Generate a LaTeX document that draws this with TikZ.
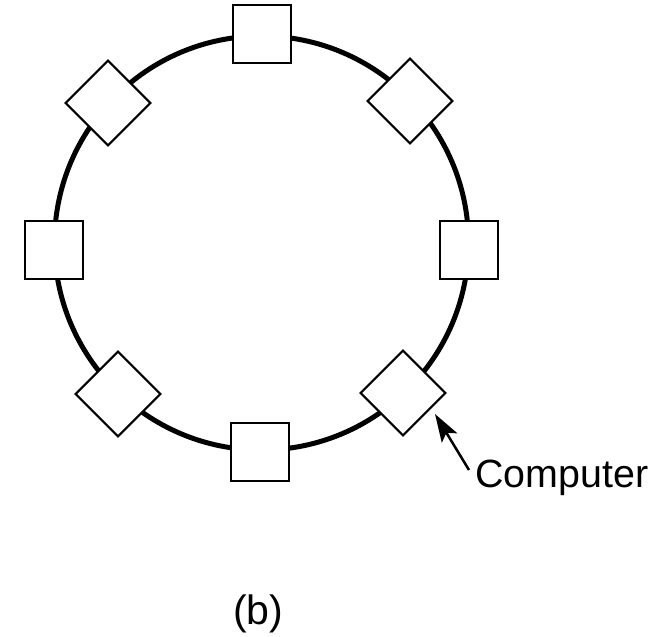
\documentclass[tikz,border=0pt]{standalone}
\usepackage{fontspec}
\setmainfont{Liberation Sans}
\usetikzlibrary{arrows.meta}
\begin{document}
\begin{tikzpicture}[x=1pt,y=-1pt,
  ring/.style={line width=5pt},
  sqnode/.style={draw, fill=white, line width=2.6pt, minimum size=58pt, inner sep=0pt},
  dmnode/.style={draw, fill=white, line width=2.2pt, minimum size=60pt, inner sep=0pt, rotate=45},
  lbl/.style={inner sep=0pt, font=\fontsize{39.4}{47}\selectfont},
  pointer/.style={line width=2.5pt, -{Stealth[length=28pt, width=18pt, inset=6pt]}}]
\useasboundingbox (0,0) rectangle (667,637);
\fill[white] (0,0) rectangle (667,637);
\coordinate (c) at (261.5,243);
\draw[ring] (c) circle[radius=207];
\node[sqnode] (n) at (262,34) {};
\node[dmnode] (ne) at (410,101) {};
\node[sqnode] (e) at (469,250) {};
\node[dmnode] (se) at (403,393) {};
\node[sqnode] (s) at (260,452) {};
\node[dmnode] (sw) at (118,394) {};
\node[sqnode] (w) at (54,250) {};
\node[dmnode] (nw) at (108,103) {};
\node[lbl, anchor=base west] (comp) at (475,487) {Computer};
\coordinate (tail) at (469,470);
\coordinate (tip) at (435,414);
\draw[pointer] (tail) -- (tip);
\node[inner sep=0pt, font=\fontsize{41}{48}\selectfont, anchor=base west] (b) at (233,624) {(b)};
\end{tikzpicture}
\end{document}
